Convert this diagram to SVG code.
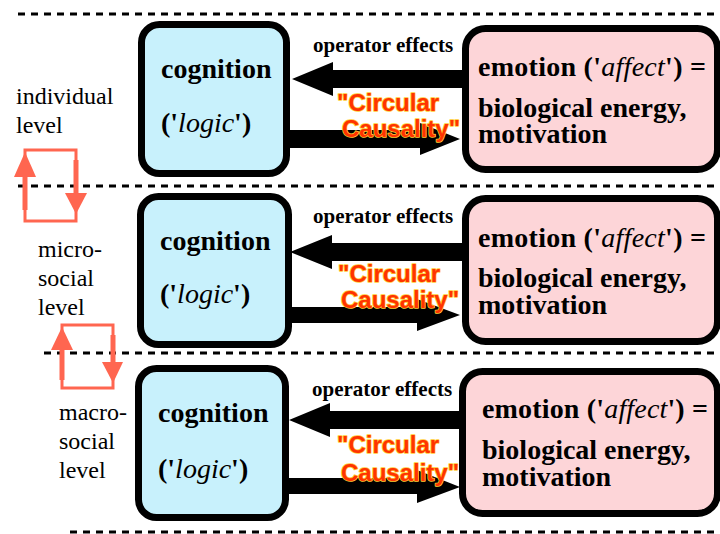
<svg xmlns="http://www.w3.org/2000/svg" width="720" height="534" viewBox="0 0 720 534">
<style>
.dash{stroke:#000;stroke-width:3;stroke-dasharray:7 6;fill:none}
.cog{fill:#c8f1fc;stroke:#000;stroke-width:7}
.emo{fill:#fdd5d8;stroke:#000;stroke-width:7}
.big{font-family:"Liberation Serif","Times New Roman",serif;font-size:28px;font-weight:bold;fill:#000}
.it{font-style:italic;font-weight:normal}
.op{font-family:"Liberation Serif","Times New Roman",serif;font-size:21px;font-weight:bold;fill:#000}
.lvl{font-family:"Liberation Serif","Times New Roman",serif;font-size:24px;fill:#000}
.cc{font-family:"Liberation Sans",Arial,sans-serif;font-size:24px;font-weight:bold;fill:#ff3300;stroke:#ffcc33;stroke-width:1.6;paint-order:stroke;stroke-linejoin:round}
.arr{fill:#000}
.loop{fill:none;stroke:#ff6650;stroke-width:3}
.shaft{stroke:#ff6650;stroke-width:5;fill:none}
.head{fill:#ff6650}
</style>
<g id="separators">
<line class="dash" x1="18" y1="14" x2="720" y2="14"/>
<line class="dash" x1="18" y1="186" x2="720" y2="186"/>
<line class="dash" x1="44" y1="353" x2="720" y2="353"/>
<line class="dash" x1="70" y1="532" x2="720" y2="532"/>
</g>
<g id="connectors">
<polygon class="arr" points="292,79 333,62 333,70 470,70 470,88 333,88 333,96"/>
<polygon class="arr" points="285,130 420,130 420,123 460,139 420,155 420,148 285,148"/>
<polygon class="arr" points="290,252 332,235 332,243 470,243 470,261 332,261 332,269"/>
<polygon class="arr" points="285,307 417,307 417,299 460,315 417,331 417,323 285,323"/>
<polygon class="arr" points="289,420 330,403 330,411 470,411 470,429 330,429 330,437"/>
<polygon class="arr" points="285,478 417,478 417,470 460,487 417,503 417,494 285,494"/>
</g>
<g id="cognition-1">
<rect class="cog" x="141.5" y="24.5" width="145" height="149" rx="18"/>
<text class="big" x="161" y="78">cognition</text>
<text class="big" x="161" y="132">('<tspan class="it">logic</tspan>')</text>
</g>
<g id="emotion-1">
<rect class="emo" x="465.5" y="28.5" width="252" height="141" rx="20"/>
<text class="big" x="478" y="76" textLength="228">emotion ('<tspan class="it">affect</tspan>') =</text>
<text class="big" x="478" y="117">biological energy,</text>
<text class="big" x="478" y="143">motivation</text>
</g>
<g id="cognition-2">
<rect class="cog" x="140.5" y="196.5" width="148" height="148" rx="18"/>
<text class="big" x="160" y="250">cognition</text>
<text class="big" x="160" y="303">('<tspan class="it">logic</tspan>')</text>
</g>
<g id="emotion-2">
<rect class="emo" x="465.5" y="198.5" width="252" height="143" rx="20"/>
<text class="big" x="478" y="247" textLength="228">emotion ('<tspan class="it">affect</tspan>') =</text>
<text class="big" x="478" y="287">biological energy,</text>
<text class="big" x="478" y="314">motivation</text>
</g>
<g id="cognition-3">
<rect class="cog" x="138.5" y="368.5" width="147" height="149" rx="18"/>
<text class="big" x="158" y="422">cognition</text>
<text class="big" x="158" y="478">('<tspan class="it">logic</tspan>')</text>
</g>
<g id="emotion-3">
<rect class="emo" x="462.5" y="371.5" width="255" height="142" rx="20"/>
<text class="big" x="482" y="418" textLength="226">emotion ('<tspan class="it">affect</tspan>') =</text>
<text class="big" x="482" y="459">biological energy,</text>
<text class="big" x="482" y="486">motivation</text>
</g>
<g id="labels">
<text class="op" x="313" y="52">operator effects</text>
<text class="cc" x="337" y="111">"Circular</text>
<text class="cc" x="342" y="137">Causality"</text>
<text class="op" x="313" y="223">operator effects</text>
<text class="cc" x="338" y="282">"Circular</text>
<text class="cc" x="341" y="308">Causality"</text>
<text class="op" x="312" y="396">operator effects</text>
<text class="cc" x="337" y="453">"Circular</text>
<text class="cc" x="341" y="481">Causality"</text>
<text class="lvl" x="16" y="104">individual</text>
<text class="lvl" x="16" y="133">level</text>
<text class="lvl" x="38" y="257">micro-</text>
<text class="lvl" x="38" y="286">social</text>
<text class="lvl" x="38" y="315">level</text>
<text class="lvl" x="59" y="420">macro-</text>
<text class="lvl" x="59" y="449">social</text>
<text class="lvl" x="59" y="478">level</text>
</g>
<g id="loop-1">
<rect class="loop" x="25" y="150" width="51" height="71"/>
<line class="shaft" x1="25" y1="210" x2="25" y2="176"/>
<polygon class="head" points="14,177 36,177 25,152"/>
<line class="shaft" x1="76" y1="160" x2="76" y2="194"/>
<polygon class="head" points="65,193 87,193 76,214"/>
</g>
<g id="loop-2">
<rect class="loop" x="62" y="325" width="51" height="63"/>
<line class="shaft" x1="62" y1="380" x2="62" y2="349"/>
<polygon class="head" points="51,350 73,350 62,327"/>
<line class="shaft" x1="113" y1="335" x2="113" y2="363"/>
<polygon class="head" points="102,362 123,362 113,383"/>
</g>
</svg>
